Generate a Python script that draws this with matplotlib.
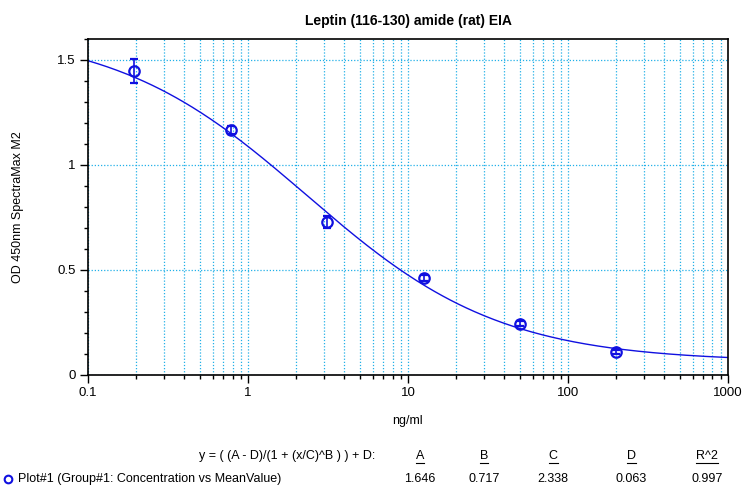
import numpy as np
import matplotlib
matplotlib.use("Agg")
import matplotlib.pyplot as plt
from matplotlib.ticker import LogLocator, FixedLocator, MultipleLocator, NullFormatter

plt.rcParams["font.family"] = ["Liberation Sans", "DejaVu Sans"]

# standards
conc = [0.195, 0.78, 3.125, 12.5, 50, 200]
od_mean = [1.448, 1.167, 0.729, 0.462, 0.243, 0.110]
od_err = [0.057, 0.020, 0.030, 0.015, 0.012, 0.010]

# 4PL fit parameters from the table
par_names = ["A", "B", "C", "D", "R^2"]
par_values = ["1.646", "0.717", "2.338", "0.063", "0.997"]
A, B, C, D = 1.646, 0.717, 2.338, 0.063

blue = "#1010e0"
grid_c = "#22b0e8"

fig = plt.figure(figsize=(7.44, 4.87), dpi=100)
ax = fig.add_axes([0.1183, 0.23, 0.8602, 0.69])

xs = np.logspace(-1, 3, 400)
ax.plot(xs, (A - D) / (1 + (xs / C) ** B) + D, color=blue, lw=1.0)
ax.errorbar(conc, od_mean, yerr=od_err, fmt="o", mfc="none", mec=blue,
            ecolor=blue, ms=7.5, mew=1.6, capsize=3.2, elinewidth=1.2, capthick=1.3)

ax.set_xscale("log")
ax.set_xlim(0.1, 1000)
ax.set_ylim(0, 1.6)
ax.xaxis.set_minor_locator(LogLocator(base=10, subs=np.arange(2, 10), numticks=20))
ax.xaxis.set_minor_formatter(NullFormatter())
ax.set_xticks([0.1, 1, 10, 100, 1000], ["0.1", "1", "10", "100", "1000"])
ax.yaxis.set_major_locator(FixedLocator([0, 0.5, 1, 1.5]))
ax.set_yticklabels(["0", "0.5", "1", "1.5"])
ax.yaxis.set_minor_locator(MultipleLocator(0.1))

ax.grid(True, which="both", axis="x", color=grid_c, ls=(0, (1, 1.5)), lw=0.9)
ax.grid(True, which="major", axis="y", color=grid_c, ls=(0, (1, 1.5)), lw=0.9)
ax.set_axisbelow(True)

ax.tick_params(which="major", direction="out", length=6, width=1, labelsize=9.5, pad=3)
ax.tick_params(which="minor", direction="out", length=3, width=1)
for s in ax.spines.values():
    s.set_linewidth(1.2)

ax.set_title("Leptin (116-130) amide (rat) EIA", fontsize=10, fontweight="bold", pad=10)
ax.set_ylabel("OD 450nm SpectraMax M2", fontsize=9, labelpad=24)

fig.text(0.548, 1 - 421 / 487, "ng/ml", ha="center", va="center", fontsize=9)
fig.text(0.504, 1 - 456 / 487, "y = ( (A - D)/(1 + (x/C)^B ) ) + D:", ha="right",
         va="center", fontsize=9)
col_x = [420, 484, 553, 631, 707]
heads = []
for cx, name, val in zip(col_x, par_names, par_values):
    heads.append(fig.text(cx / 744, 1 - 456 / 487, name, ha="center", va="center", fontsize=9))
    fig.text(cx / 744, 1 - 479 / 487, val, ha="center", va="center", fontsize=9)
fig.text(18 / 744, 1 - 479 / 487, "Plot#1 (Group#1: Concentration vs MeanValue)",
         ha="left", va="center", fontsize=9)
fig.lines.append(plt.Line2D([8 / 744], [1 - 479 / 487], marker="o", mfc="none", mec=blue,
                            ms=5.5, mew=1.5, transform=fig.transFigure, figure=fig))

# underline the column heads
fig.canvas.draw()
r = fig.canvas.get_renderer()
for t in heads:
    bb = t.get_window_extent(r).transformed(fig.transFigure.inverted())
    fig.lines.append(plt.Line2D([bb.x0, bb.x1], [bb.y0 - 0.002, bb.y0 - 0.002], color="black",
                                lw=0.8, transform=fig.transFigure, figure=fig))

fig.savefig("out.png", dpi=100)
